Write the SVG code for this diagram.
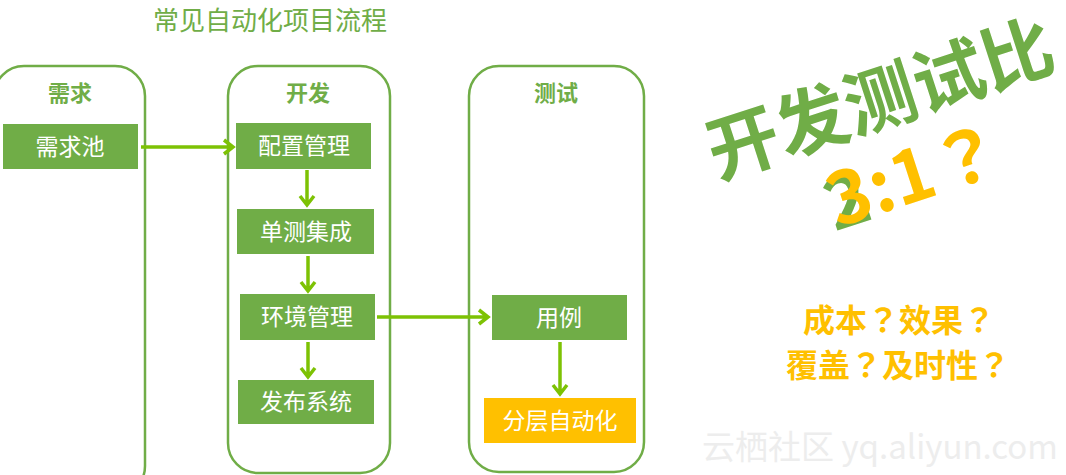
<svg xmlns="http://www.w3.org/2000/svg" width="1066" height="475" viewBox="0 0 1066 475">
<style>
.cjk{font-family:"Noto Sans CJK SC","Noto Sans",sans-serif}
.tc{font-family:"Noto Sans CJK TC","Noto Sans CJK SC",sans-serif}
.lane{fill:none;stroke:#70AD47;stroke-width:2.5}
.hdr{font-size:22px;font-weight:bold;fill:#70AD47;text-anchor:middle}
.box{fill:#70AD47}
.ybox{fill:#FFC000}
.lbl{font-size:23px;fill:#FFFFFF;text-anchor:middle}
.conn{fill:none;stroke:#7DC204;stroke-width:3.5;stroke-linejoin:miter}
.q{font-size:32px;font-weight:bold;fill:#FFC000;text-anchor:middle}
</style>
<rect width="1066" height="475" fill="#FFFFFF"/>
<text class="cjk" x="270" y="30" font-size="26" fill="#70AD47" text-anchor="middle">常见自动化项目流程</text>
<g id="lane-req">
<rect class="lane" x="-6" y="66" width="151" height="430" rx="30"/>
<text class="cjk hdr" x="70" y="101">需求</text>
</g>
<g id="lane-dev">
<rect class="lane" x="228" y="66" width="162" height="407" rx="30"/>
<text class="cjk hdr" x="308" y="101">开发</text>
</g>
<g id="lane-test">
<rect class="lane" x="469" y="66" width="175" height="406" rx="30"/>
<text class="cjk hdr" x="556" y="101">测试</text>
</g>
<g id="n-pool"><rect class="box" x="3" y="124" width="135" height="45"/><text class="cjk lbl" x="70" y="155">需求池</text></g>
<g id="n-config"><rect class="box" x="236" y="123" width="135" height="46"/><text class="cjk lbl" x="304" y="154">配置管理</text></g>
<g id="n-unit"><rect class="box" x="237" y="209" width="137" height="45"/><text class="cjk lbl" x="306" y="240">单测集成</text></g>
<g id="n-env"><rect class="box" x="240" y="294" width="135" height="46"/><text class="cjk lbl" x="307" y="325">环境管理</text></g>
<g id="n-release"><rect class="box" x="238" y="380" width="136" height="44"/><text class="cjk lbl" x="306" y="410">发布系统</text></g>
<g id="n-case"><rect class="box" x="492" y="295" width="135" height="45"/><text class="cjk lbl" x="559" y="326">用例</text></g>
<g id="n-layer"><rect class="ybox" x="484" y="398" width="152" height="45"/><text class="cjk lbl" x="560" y="429">分层自动化</text></g>
<g id="connectors">
<path class="conn" d="M141 147H233M224 140L233 147L224 154"/>
<path class="conn" d="M307 170V205M300 196L307 205L314 196"/>
<path class="conn" d="M308 256V291M301 282L308 291L315 282"/>
<path class="conn" d="M308 342V377M301 368L308 377L315 368"/>
<path class="conn" d="M377 317H488M479 310L488 317L479 324"/>
<path class="conn" d="M560 342V394M553 385L560 394L567 385"/>
</g>
<g id="big-title" transform="translate(880,98) rotate(-18)">
<text class="cjk" x="0" y="27" font-size="72" font-weight="bold" fill="#70AD47" text-anchor="middle">开发测试比</text>
</g>
<g id="ratio" transform="translate(905,177) rotate(-18)">
<text class="cjk" x="-84" y="30" font-size="72" font-weight="bold" fill="#70AD47">2</text>
<text class="cjk" x="-80" y="27" font-size="72" font-weight="bold" fill="#FFC000">3:1<tspan class="tc" font-weight="bold">？</tspan></text>
</g>
<g id="questions">
<text class="cjk q" x="899" y="332">成本<tspan class="tc">？</tspan>效果<tspan class="tc">？</tspan></text>
<text class="cjk q" x="898" y="377">覆盖<tspan class="tc">？</tspan>及时性<tspan class="tc">？</tspan></text>
</g>
<text class="cjk" x="880" y="459" font-size="33" fill="#EDEDED" text-anchor="middle">云栖社区 yq.aliyun.com</text>
</svg>
